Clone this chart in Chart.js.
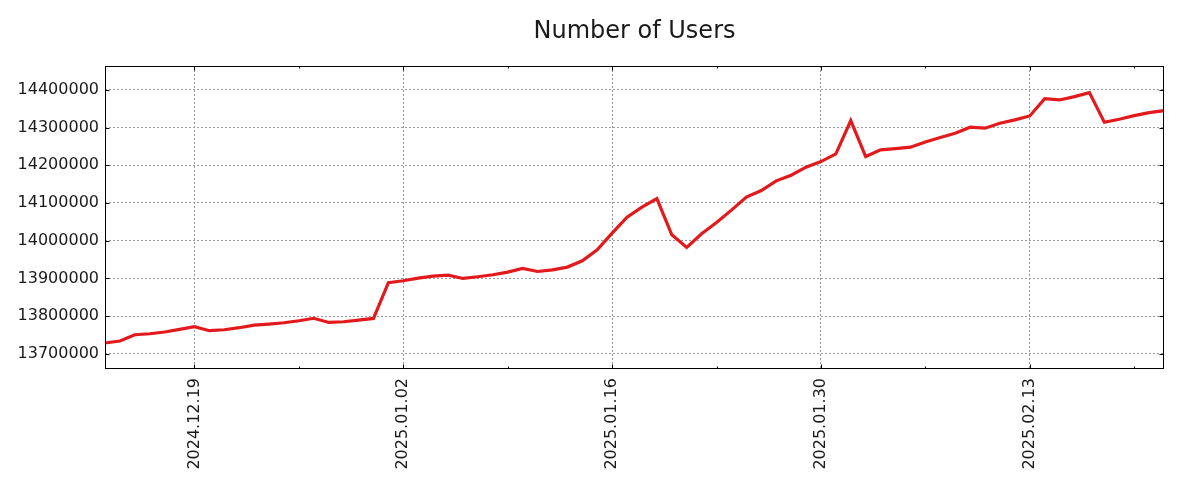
<!DOCTYPE html>
<html>
<head>
<meta charset="utf-8">
<script src="https://cdn.jsdelivr.net/npm/chart.js@4/dist/chart.umd.min.js"></script>
<style>
    body { margin: 0; background: #fff; }
    canvas { display: block; }
</style>
</head>
<body>
<canvas id="users-chart" width="1200" height="500"></canvas>
<script>
const dates = [
    "2024.12.13", "2024.12.14", "2024.12.15", "2024.12.16", "2024.12.17", "2024.12.18", "2024.12.19",
    "2024.12.20", "2024.12.21", "2024.12.22", "2024.12.23", "2024.12.24", "2024.12.25", "2024.12.26",
    "2024.12.27", "2024.12.28", "2024.12.29", "2024.12.30", "2024.12.31", "2025.01.01", "2025.01.02",
    "2025.01.03", "2025.01.04", "2025.01.05", "2025.01.06", "2025.01.07", "2025.01.08", "2025.01.09",
    "2025.01.10", "2025.01.11", "2025.01.12", "2025.01.13", "2025.01.14", "2025.01.15", "2025.01.16",
    "2025.01.17", "2025.01.18", "2025.01.19", "2025.01.20", "2025.01.21", "2025.01.22", "2025.01.23",
    "2025.01.24", "2025.01.25", "2025.01.26", "2025.01.27", "2025.01.28", "2025.01.29", "2025.01.30",
    "2025.01.31", "2025.02.01", "2025.02.02", "2025.02.03", "2025.02.04", "2025.02.05", "2025.02.06",
    "2025.02.07", "2025.02.08", "2025.02.09", "2025.02.10", "2025.02.11", "2025.02.12", "2025.02.13",
    "2025.02.14", "2025.02.15", "2025.02.16", "2025.02.17", "2025.02.18", "2025.02.19", "2025.02.20",
    "2025.02.21", "2025.02.22"
];

const users = [
    13728400, 13733700, 13750400, 13753000, 13757500, 13764400, 13771600,
    13761000, 13763600, 13769000, 13776000, 13778700, 13782200, 13787500,
    13794000, 13783000, 13784800, 13789300, 13793600, 13888300, 13893600,
    13900700, 13906000, 13908700, 13899700, 13904200, 13909500, 13916600,
    13926200, 13918200, 13922700, 13929900, 13946600, 13975800, 14020000,
    14062400, 14089000, 14111800, 14015500, 13981900, 14018200, 14048100,
    14081000, 14115500, 14133000, 14158700, 14173800, 14195000, 14209900,
    14230300, 14318600, 14223200, 14240900, 14244400, 14248100, 14262100,
    14274000, 14285200, 14301100, 14298500, 14311700, 14320500, 14331100,
    14377000, 14373500, 14382200, 14392900, 14314300, 14322300, 14331800,
    14339800, 14345100
];

const xTicks = ["2024.12.19", "2025.01.02", "2025.01.16", "2025.01.30", "2025.02.13"];
const xMinorTicks = ["2024.12.26", "2025.01.09", "2025.01.23", "2025.02.06", "2025.02.20"];
const yTicks = [13700000, 13800000, 13900000, 14000000, 14100000, 14200000, 14300000, 14400000];

const textColor = "#1a1a1a";
const fontName = "'DejaVu Sans', sans-serif";

// matplotlib-like box around the axes, with inward tick marks
const frame = {
    id: "frame",
    afterDraw(chart) {
        const { ctx, chartArea: a, scales: { x, y } } = chart;
        const l = Math.round(a.left) + 0.5;
        const r = Math.round(a.right) - 0.5;
        const t = Math.round(a.top) + 0.5;
        const b = Math.round(a.bottom) - 0.5;
        ctx.save();
        ctx.strokeStyle = "#000";
        ctx.lineWidth = 1;
        ctx.strokeRect(l, t, r - l, b - t);
        ctx.beginPath();
        xTicks.forEach(d => {
            const px = Math.round(x.getPixelForValue(dates.indexOf(d))) + 0.5;
            ctx.moveTo(px, b); ctx.lineTo(px, b - 4);
            ctx.moveTo(px, t); ctx.lineTo(px, t + 4);
        });
        xMinorTicks.forEach(d => {
            const px = Math.round(x.getPixelForValue(dates.indexOf(d))) + 0.5;
            ctx.moveTo(px, b); ctx.lineTo(px, b - 2);
            ctx.moveTo(px, t); ctx.lineTo(px, t + 2);
        });
        yTicks.forEach(v => {
            const py = Math.round(y.getPixelForValue(v)) + 0.5;
            ctx.moveTo(l, py); ctx.lineTo(l + 4, py);
            ctx.moveTo(r, py); ctx.lineTo(r - 4, py);
        });
        ctx.stroke();
        ctx.restore();
    }
};

const chart = new Chart(document.getElementById("users-chart"), {
    type: "line",
    data: {
        labels: dates,
        datasets: [{
            data: users,
            borderColor: "#e31a1c",
            borderWidth: 3.2,
            pointRadius: 0,
            tension: 0,
            fill: false
        }]
    },
    options: {
        responsive: false,
        animation: false,
        devicePixelRatio: 1,
        layout: { padding: { left: 0, right: 36, top: 0, bottom: 0 } },
        plugins: {
            legend: { display: false },
            tooltip: { enabled: false },
            title: {
                display: true,
                text: "Number of Users",
                fullSize: false,
                color: textColor,
                font: { family: fontName, size: 24, weight: "normal" },
                padding: { top: 17.6, bottom: 19.6 }
            }
        },
        scales: {
            x: {
                type: "category",
                offset: false,
                afterBuildTicks: scale => {
                    scale.ticks = scale.ticks.filter(tk => xTicks.includes(dates[tk.value]));
                },
                afterFit: scale => { scale.height = 131; },
                ticks: {
                    autoSkip: false,
                    maxRotation: 90,
                    minRotation: 90,
                    padding: 9,
                    color: textColor,
                    font: { family: fontName, size: 16 }
                },
                grid: { color: "#999", lineWidth: 1, drawTicks: false },
                border: { display: false, dash: [2, 2] }
            },
            y: {
                min: 13659400,
                max: 14463600,
                afterBuildTicks: scale => {
                    scale.ticks = yTicks.map(v => ({ value: v }));
                },
                afterFit: scale => { scale.width = 105; },
                ticks: {
                    padding: 6,
                    color: textColor,
                    font: { family: fontName, size: 16 },
                    callback: v => String(v)
                },
                grid: { color: "#999", lineWidth: 1, drawTicks: false },
                border: { display: false, dash: [2, 2] }
            }
        }
    },
    plugins: [frame]
});
</script>
</body>
</html>
